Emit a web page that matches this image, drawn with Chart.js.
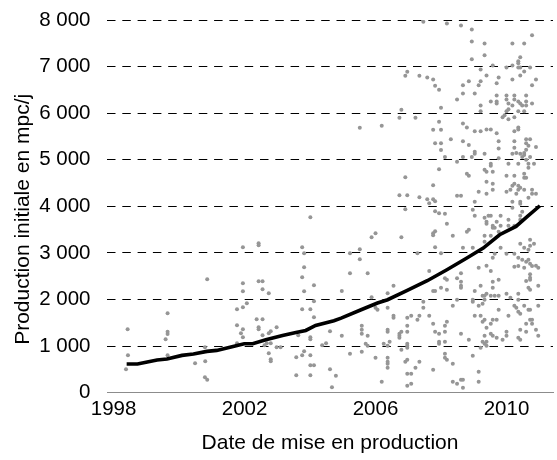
<!DOCTYPE html>
<html>
<head>
<meta charset="utf-8">
<script src="https://cdn.jsdelivr.net/npm/chart.js@4.4.1/dist/chart.umd.min.js"></script>
<style>
  html, body { margin: 0; padding: 0; background: #ffffff; }
  #wrap { width: 557px; height: 460px; }
</style>
</head>
<body>
<div id="wrap"><canvas id="chart" width="557" height="460"></canvas></div>
<script>
// Date of first production (decimal year) and initial rate (mpc/j) for each well
const wellDates = [
  1998.43,1998.44,1998.38,1999.65,1999.65,1999.65,1999.59,1999.65,2000.86,2000.79,
  2000.49,2000.80,2000.79,2000.86,2001.95,2002.43,2002.43,2002.43,2002.55,2002.55,
  2002.74,2001.95,2001.95,2002.07,2001.95,2001.77,2001.77,2001.89,2001.95,2001.95,
  2001.77,2002.37,2002.55,2002.43,2002.43,2002.55,2002.74,2002.80,2002.98,2002.68,
  2002.80,2002.61,2002.98,2003.10,2002.74,2002.80,2002.80,2004.01,2003.76,2003.82,
  2003.82,2003.76,2003.82,2004.12,2004.12,2003.76,2004.01,2004.12,2004.01,2004.01,
  2003.64,2003.82,2004.01,2003.76,2003.58,2004.01,2004.12,2003.58,2004.01,2004.37,
  2004.49,2004.61,2004.61,2004.67,
  2005.22,2005.76,2004.97,2005.88,2006.37,2006.55,2007.64,2007.76,2007.82,2008.00,
  2007.46,2007.46,2007.64,2007.76,2007.82,2007.94,2007.94,2007.94,2007.76,2006.37,
  2006.06,2006.00,2006.55,2006.55,2006.97,2007.09,2007.28,2007.34,2006.97,2006.97,
  2006.73,2006.73,2006.79,2006.73,2006.37,2006.37,2006.43,2006.25,2006.37,2006.97,
  2006.97,2006.97,2006.79,2005.58,2005.58,2005.58,2005.76,2004.97,2005.70,2005.76,
  2005.58,2005.22,2006.00,2006.37,2006.37,2006.37,2006.37,2006.91,2006.97,2007.34,
  2007.22,2007.09,2006.97,2007.09,2006.97,2006.19,2004.79,
  2007.82,2008.00,2008.00,2007.94,2006.91,2007.76,2006.73,2006.97,2007.34,2007.58,
  2007.76,2007.82,2007.64,2006.91,2007.82,2007.94,2005.88,2006.00,2006.79,2007.82,
  2007.76,2007.76,2007.82,2005.22,2005.52,2005.52,2007.28,2008.00,
  2007.46,2006.97,2006.91,2007.34,2007.58,2007.76,2007.82,2007.94,2008.00,2006.79,
  2006.73,2007.22,2005.52,2006.19,2007.94,2007.76,2008.00,
  2008.18,2008.61,2008.94,2008.94,2009.33,2010.18,2010.54,2010.78,2008.94,2009.33,
  2009.58,2010.00,2010.18,2010.36,2010.36,2010.42,2010.36,2010.42,2010.54,2010.72,
  2010.90,2010.78,2010.42,2010.18,2009.21,2009.39,2009.76,2009.70,2009.21,2009.15,
  2008.85,2008.67,2008.67,2009.03,2008.49,2009.21,2009.21,2009.52,2009.70,2009.70,
  2009.70,2010.00,2010.24,2010.00,2010.24,2010.06,2010.36,2010.42,2010.48,2010.60,
  2010.60,2010.60,2010.78,2010.18,2010.06,2010.00,2009.94,2009.88,2010.06,2010.36,
  2010.54,2010.24,2010.36,2010.36,2010.24,2009.70,2009.39,2009.52,2009.03,2009.21,
  2008.67,2008.79,2008.30,2008.67,2008.85,2009.76,2010.24,2010.60,2010.72,2010.60,
  2009.76,2010.24,2010.67,2010.90,2010.60,2008.12,2008.67,2008.94,2009.03,2009.03,
  2009.33,2009.76,2010.18,2010.30,2010.42,2010.48,2010.54,2010.72,2010.54,2008.49,
  2009.52,2009.52,2010.06,2010.36,2010.60,2010.67,2010.67,2010.84,2008.79,2008.85,
  2009.33,2009.39,2009.58,2010.00,2010.24,2010.54,2010.54,2010.60,2009.39,2009.58,
  2010.24,2010.18,2010.36,2010.42,2009.15,2009.39,2009.58,2010.00,2010.12,2010.36,
  2010.54,2010.78,2010.90,2010.78,2010.30,2010.67,2008.49,2008.61,2009.03,2010.18,
  2010.42,2010.42,2010.18,2008.12,2008.97,2009.03,2009.45,2009.52,2009.82,2010.06,
  2010.48,2010.42,2010.42,2009.33,2009.39,2009.39,2009.70,2009.58,2009.64,2009.58,
  2009.82,2010.06,2010.24,2008.18,2008.79,2008.85,2009.52,2009.76,2008.36,2008.67,
  2008.97,2009.33,2009.33,2009.82,2009.58,2009.64,2010.00,2010.24,2010.42,2010.54,
  2010.67,2010.72,2010.84,2010.72,2010.36,2010.48,2010.60,2010.67,2010.72,2010.90,
  2010.54,2010.97,2009.15,2009.39,
  2009.52,2010.24,2010.36,2010.78,2010.72,2010.72,2010.60,2010.72,2008.61,2008.12,
  2008.18,2008.49,2008.61,2008.61,2008.61,2008.18,2009.03,2009.21,2009.58,2009.58,
  2009.76,2009.33,2009.27,2009.39,2009.52,2009.64,2009.76,2010.00,2010.36,2010.36,
  2010.67,2010.72,2010.97,2010.97,2010.72,2010.72,2010.78,2010.60,2010.78,2010.90,
  2010.97,2010.60,2010.42,2010.42,2010.36,2010.24,2010.30,2010.36,2010.42,2010.54,
  2010.67,2010.12,2010.06,2010.00,2010.00,2009.88,2009.76,2009.70,2009.58,2009.52,
  2009.33,2009.39,2009.33,2009.52,2009.58,2009.70,2009.21,2009.27,2009.03,2009.15,
  2009.27,2009.33,2008.97,2008.97,2008.49,2008.36,2008.18,2008.12,2008.12,2008.12,
  2008.61,2008.85,2009.27,2009.39,2009.33,2009.39,2009.21,2008.97,2008.12,2008.12,
  2008.18,2008.36,2009.15,2009.15,2008.36,2008.49,2008.61,2008.67,2008.67
];
const wellRates = [
  1360,803,502,1704,1309,1260,1146,803,2433,974,
  631,674,330,279,3120,3206,3163,2390,2390,2219,
  2133,2348,2176,1918,1833,1790,1446,1275,1360,1189,
  1060,1575,1575,1403,1360,1232,1275,1317,1403,1060,
  1060,1017,974,974,846,717,674,3764,3120,2992,
  2691,2476,2176,2305,1961,1790,1790,1618,1189,1146,
  1232,888,803,803,760,588,588,373,373,1017,
  1060,1317,502,116,
  2562,2562,2183,2047,2133,2296,2612,2183,2183,2253,
  1953,1824,1652,1481,1309,1266,1094,1052,494,1824,
  1781,1824,1652,1610,1610,1652,1567,1652,1438,1309,
  1266,1223,1309,1180,1352,1309,1094,1052,1009,1052,
  1009,966,923,1438,1352,1266,1223,1223,1052,1009,
  880,837,751,751,665,622,537,665,708,665,
  537,408,408,193,150,236,365,
  5352,5352,5208,4794,4622,4451,4236,4236,4193,4150,
  4150,4107,4064,3936,3893,3850,3335,3421,3335,3464,
  3421,3378,3120,2992,3077,2863,2992,2992,
  7962,6889,6803,6803,6768,6725,6588,6503,6116,6073,
  5901,5901,5687,5730,5816,5644,5644,
  7927,7884,7798,7541,7498,7498,7498,7670,7155,7241,
  7026,6983,7026,7112,7069,7198,6983,6983,6897,6983,
  6725,6597,6811,6725,6940,6811,6768,6640,6683,6597,
  6683,6597,6425,6425,6296,6167,6039,6253,6253,6210,
  6382,6382,6382,6296,6296,6210,6253,6210,6167,6382,
  6253,6167,6210,6167,6082,6039,5953,5910,5867,6039,
  6039,5910,5695,5652,5610,5567,5652,5652,5610,5610,
  5781,5695,5438,5395,5316,5395,5395,5438,5438,5352,
  5244,5258,5301,5273,5215,5058,5058,5058,5172,5129,
  5129,5030,5129,5144,5129,5058,5101,5058,5144,4957,
  4914,4871,4914,4914,5000,4914,4828,4914,4700,4657,
  4786,4743,4743,4657,4657,4700,4614,4614,4528,4485,
  4485,4442,4442,4399,4313,4270,4356,4313,4356,4356,
  4356,4356,4270,4270,4270,4185,4227,4227,4099,4099,
  4099,4056,3970,3841,3927,3798,3798,3798,3798,3713,
  3884,3798,3713,3755,3670,3627,3670,3584,3541,3541,
  3584,3584,3584,3627,3455,3498,3369,3455,3369,3112,
  3112,3369,3240,3112,2897,2983,2983,2983,3198,3112,
  3069,3283,3198,3155,2897,2854,2811,2854,2768,2725,
  2683,2683,2683,2725,
  2612,2704,2719,2719,2541,2468,2397,2425,2562,2455,
  2425,2455,2382,2296,2253,2210,2183,2296,2382,2253,
  2425,2082,2082,2125,2082,2082,2082,2125,2125,1996,
  2253,2210,2296,1867,1781,1567,1567,1481,1481,1352,
  1223,1309,1352,1137,1180,1867,1824,1738,1695,1867,
  1781,2039,1652,1309,1223,1137,1781,1567,1567,1481,
  1567,1395,1223,1266,1223,1180,1652,1524,1652,1867,
  1910,1996,1996,1953,1996,1867,1524,1438,1309,1094,
  1266,1137,1094,1094,1052,1009,966,794,837,751,
  708,622,451,236,236,193,279,279,107
];

// Smoothed trend of initial rate over time
const trendDates = [
  1998.40,1998.73,1999.03,1999.33,1999.63,2000.09,2000.44,2000.85,2001.15,2001.65,
  2001.99,2002.25,2002.65,2003.16,2003.57,2003.87,2004.17,2004.73,2004.95,2005.56,
  2006.06,2006.37,2006.97,2007.58,2008.18,2008.79,2009.29,2009.79,2010.29,2010.64,
  2011.02
];
const trendRates = [
  616,616,658,701,723,801,830,887,908,994,
  1051,1051,1137,1230,1294,1337,1444,1545,1602,1781,
  1925,1996,2196,2404,2640,2890,3105,3390,3570,3783,
  4013
];

const yearTicks = [1998, 2002, 2006, 2010];
const rateTicks = [0, 1000, 2000, 3000, 4000, 5000, 6000, 7000, 8000];
const xTitle = 'Date de mise en production';
const yTitle = 'Production initiale en mpc/j';

const FONT = '"Liberation Sans", Arial, sans-serif';

const wellPoints = wellDates.map((d, i) => ({ x: d, y: wellRates[i] }));
const trendPoints = trendDates.map((d, i) => ({ x: d, y: trendRates[i] }));

const spaced = v => String(v).replace(/\B(?=(\d{3})+(?!\d))/g, ' ');

// Vertical axis title, written along the left edge and set a little
// below the middle of the plot area.
const leftTitle = {
  id: 'leftTitle',
  afterDraw(chart) {
    const { ctx, chartArea } = chart;
    ctx.save();
    ctx.translate(23, (chartArea.top + chartArea.bottom) / 2 + 13);
    ctx.rotate(-Math.PI / 2);
    ctx.font = '21px ' + FONT;
    ctx.fillStyle = '#000000';
    ctx.textAlign = 'center';
    ctx.textBaseline = 'middle';
    ctx.fillText(yTitle, 0, 0);
    ctx.restore();
  }
};

new Chart(document.getElementById('chart'), {
  type: 'scatter',
  data: {
    datasets: [
      {
        type: 'line',
        data: trendPoints,
        borderColor: '#000000',
        borderWidth: 3.6,
        pointRadius: 0,
        fill: false,
        tension: 0,
        order: 0
      },
      {
        type: 'scatter',
        data: wellPoints,
        backgroundColor: '#969696',
        borderWidth: 0,
        pointRadius: 2,
        order: 1
      }
    ]
  },
  plugins: [leftTitle],
  options: {
    responsive: false,
    animation: false,
    devicePixelRatio: 1,
    layout: { padding: { left: 6, top: 20, right: 0, bottom: 0 } },
    plugins: {
      legend: { display: false },
      tooltip: { enabled: false }
    },
    scales: {
      x: {
        type: 'linear',
        min: 1997.8,
        max: 2011.42,
        afterBuildTicks: axis => { axis.ticks = yearTicks.map(v => ({ value: v })); },
        afterFit: axis => {
          axis.height = 67.3;
          axis.paddingLeft = 0;
          axis.paddingRight = 0;
        },
        grid: { display: false, drawTicks: false },
        border: { display: true, color: '#8c8c8c', width: 1 },
        ticks: {
          color: '#000000',
          font: { family: FONT, size: 20.5 },
          padding: 4.5,
          maxRotation: 0,
          callback: v => String(v)
        },
        title: {
          display: true,
          text: xTitle,
          color: '#000000',
          font: { family: FONT, size: 21 },
          padding: { top: 4, bottom: 4 }
        }
      },
      y: {
        min: 0,
        max: 8000,
        afterBuildTicks: axis => { axis.ticks = rateTicks.map(v => ({ value: v })); },
        afterFit: axis => {
          axis.width = 101;
          axis.paddingTop = 0;
          axis.paddingBottom = 0;
        },
        grid: {
          drawTicks: false,
          color: ctx => (ctx.tick && ctx.tick.value === 0) ? 'rgba(0,0,0,0)' : '#000000',
          lineWidth: 1
        },
        border: { display: false, dash: [8.5, 6.8] },
        ticks: {
          color: '#000000',
          font: { family: FONT, size: 20.5 },
          padding: 16.5,
          callback: v => spaced(v)
        },
        title: { display: false }
      }
    }
  }
});
</script>
</body>
</html>
